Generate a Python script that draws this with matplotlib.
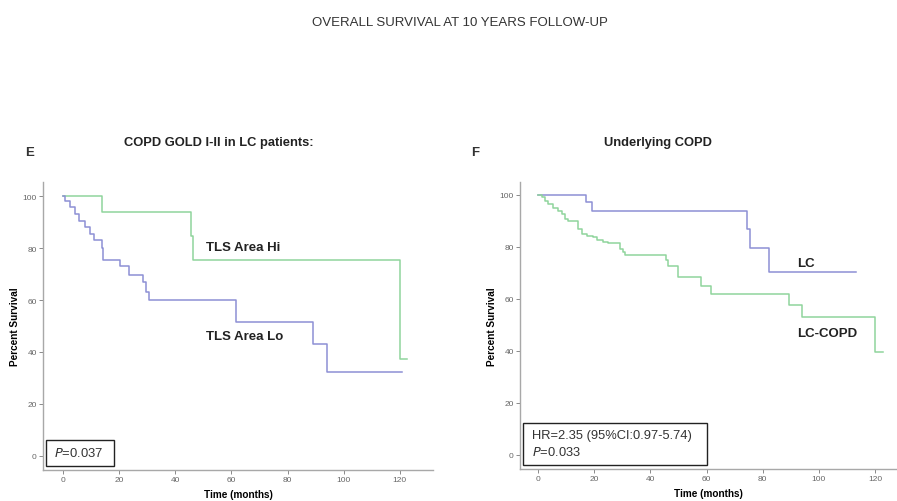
import matplotlib.pyplot as plt
from matplotlib.patches import Rectangle

plt.rcParams['font.family'] = ['Liberation Sans', 'DejaVu Sans']

# panel E: COPD GOLD I-II in LC patients (event times in months, survival % after event)
hi_t = [0, 14, 45.5, 46.3, 120, 122.4]
hi_s = [100, 93.8, 84.6, 75.3, 37.3, 37.3]
lo_t = [0, 0.6, 2.4, 4.2, 5.6, 7.7, 9.5, 11.1, 13.8, 14.3, 20.3, 23.4, 28.6,
        29.7, 30.6, 61.6, 89.1, 94.1, 120.8]
lo_s = [100, 98.3, 95.7, 93.2, 90.6, 88.0, 85.5, 83.2, 80.0, 75.6, 73.0, 69.8, 66.8,
        63.0, 60.0, 51.4, 42.9, 32.1, 32.1]

# panel F: underlying COPD
lc_t = [0, 17.1, 19.0, 74.3, 75.4, 82.2, 113.2]
lc_s = [100, 97.2, 93.7, 86.9, 79.5, 70.5, 70.5]
copd_t = [0, 1.2, 2.4, 3.6, 5.4, 7.1, 8.3, 9.5, 10.7, 14.3, 15.5, 17.2, 19.6, 20.8,
          23.2, 25.0, 29.1, 30.3, 30.9, 45.5, 46.3, 49.9, 57.9, 61.4, 89.5, 93.9,
          120, 123]
copd_s = [100, 99.1, 97.8, 96.5, 94.9, 94.0, 92.7, 90.8, 89.9, 86.9, 85.0, 84.4, 83.7,
          82.8, 82.0, 81.6, 79.2, 77.9, 76.9, 75.0, 72.8, 68.6, 65.1, 61.8, 57.7, 53.2,
          39.7, 39.7]

xticks = [0, 20, 40, 60, 80, 100, 120]
yticks = [0, 20, 40, 60, 80, 100]

GREEN = '#8fd49c'
BLUE = '#8d90d4'
W, H = 897, 502

fig = plt.figure(figsize=(W / 100, H / 100), dpi=100)


def px_axes(x0, x1, ytop, ybot):
    return fig.add_axes([x0 / W, (H - ybot) / H, (x1 - x0) / W, (ybot - ytop) / H])


def style(ax, xlim, ylim):
    ax.set_xlim(*xlim)
    ax.set_ylim(*ylim)
    ax.set_xticks(xticks)
    ax.set_yticks(yticks)
    for s in ['top', 'right']:
        ax.spines[s].set_visible(False)
    for s in ['left', 'bottom']:
        ax.spines[s].set_color('#a8a8a8')
        ax.spines[s].set_linewidth(1.0)
    ax.tick_params(length=3, width=0.6, color='#777777', labelsize=6,
                   labelcolor='#666666', pad=1.5)
    ax.set_ylabel('Percent Survival', fontsize=7.2, fontweight='bold', labelpad=2)
    ax.set_xlabel('Time (months)', fontsize=7.2, fontweight='bold', labelpad=4.5)


# left panel
ax1 = px_axes(43, 433, 183, 471)
style(ax1, (-7.1, 131.8), (-5.5, 105.5))
ax1.step(hi_t, hi_s, where='post', color=GREEN, lw=1.1)
ax1.step(lo_t, lo_s, where='post', color=BLUE, lw=1.1)

# right panel
ax2 = px_axes(520, 896, 183, 470)
style(ax2, (-6.5, 127.5), (-5.4, 105))
ax2.step(lc_t, lc_s, where='post', color=BLUE, lw=1.1)
ax2.step(copd_t, copd_s, where='post', color=GREEN, lw=1.1)


def fx(x):
    return x / W


def fy(y):
    return 1 - y / H


fig.text(fx(460), fy(23), 'OVERALL SURVIVAL AT 10 YEARS FOLLOW-UP', ha='center',
         va='center', fontsize=9.5, color='#333333')
fig.text(fx(219), fy(143), 'COPD GOLD I-II in LC patients:', ha='center', va='center',
         fontsize=9.3, fontweight='bold', color='#222222')
fig.text(fx(658), fy(143), 'Underlying COPD', ha='center', va='center',
         fontsize=9.3, fontweight='bold', color='#222222')
fig.text(fx(25), fy(153), 'E', ha='left', va='center', fontsize=9.5,
         fontweight='bold', color='#333333')
fig.text(fx(471), fy(153), 'F', ha='left', va='center', fontsize=9.5,
         fontweight='bold', color='#333333')

for x, y, s in [(206, 248, 'TLS Area Hi'), (206, 337, 'TLS Area Lo'),
                (797, 264, 'LC'), (797, 334, 'LC-COPD')]:
    fig.text(fx(x), fy(y), s, ha='left', va='center', fontsize=9.5,
             fontweight='bold', color='#222222')

# p-value boxes
fig.patches.append(Rectangle((fx(45.7), fy(466.7)), fx(114.3 - 45.7), (466.7 - 441) / H,
                             transform=fig.transFigure, fill=False, ec='#222222', lw=1.0))
fig.text(fx(54), fy(454), r'$\it{P}$=0.037', ha='left', va='center', fontsize=9.4,
         color='#333333')
fig.patches.append(Rectangle((fx(522.7), fy(466)), fx(707.3 - 522.7), (466 - 424.3) / H,
                             transform=fig.transFigure, fill=False, ec='#222222', lw=1.0))
fig.text(fx(532), fy(436), 'HR=2.35 (95%CI:0.97-5.74)', ha='left', va='center',
         fontsize=9.3, color='#333333')
fig.text(fx(532), fy(453), r'$\it{P}$=0.033', ha='left', va='center', fontsize=9.3,
         color='#333333')

fig.savefig('out.png', dpi=100)
